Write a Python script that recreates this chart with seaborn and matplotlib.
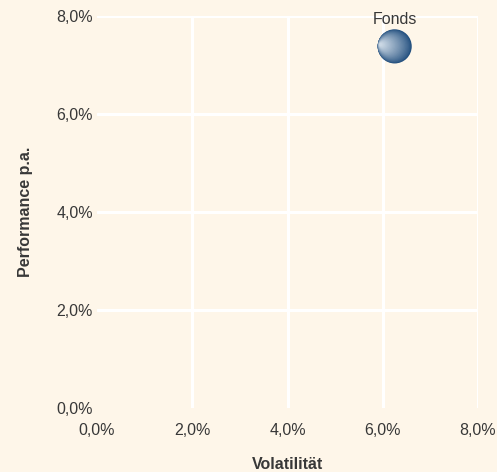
import matplotlib
matplotlib.use("Agg")
import matplotlib.pyplot as plt
import matplotlib.transforms as mtransforms
import matplotlib.colors as mcolors
import numpy as np
import seaborn as sns
import pandas as pd
from matplotlib.ticker import FuncFormatter

# -----------------------------
# Data
# -----------------------------
names = ["Fonds"]
volatility = [6.25]
performance = [7.38]
ticks = [0, 2, 4, 6, 8]

df = pd.DataFrame({"name": names, "vol": volatility, "perf": performance})

bg = "#fef6e9"
text_color = "#383838"
fs = 11.5

sns.set_theme(style="white")
plt.rcParams["font.family"] = ["Liberation Sans", "DejaVu Sans"]

fig = plt.figure(figsize=(4.97, 4.72), dpi=100, facecolor=bg)
ax = fig.add_axes([97 / 497, 1 - 408 / 472, (478 - 97) / 497, (408 - 16) / 472])
ax.set_facecolor(bg)

# grid
for t in ticks[1:]:
    ax.axvline(t, color="white", lw=2.2, zorder=0)
    ax.axhline(t, color="white", lw=2.2, zorder=0)

# sphere-like bubble: stacked circles, getting lighter towards the left side
dark = np.array(mcolors.to_rgb("#23507f"))
light = np.array(mcolors.to_rgb("#cad7e4"))
R = 12.3  # radius in points
n_layers = 24
for i in range(n_layers):
    t = i / (n_layers - 1)
    r = R * (1 - 0.9 * t)
    dx = -(R - r) * 0.9
    dy = (R - r) * 0.12
    col = dark + (light - dark) * t ** 0.8
    tr = mtransforms.offset_copy(ax.transData, fig=fig, x=dx, y=dy, units="points")
    sns.scatterplot(data=df, x="vol", y="perf", s=(2 * r) ** 2, color=col,
                    edgecolor="none", linewidth=0, ax=ax, transform=tr,
                    zorder=3, legend=False)

for _, row in df.iterrows():
    ax.annotate(row["name"], (row["vol"], row["perf"]), xytext=(0, 14),
                textcoords="offset points", ha="center", va="bottom",
                fontsize=fs, color=text_color)

ax.set_xlim(0, 8)
ax.set_ylim(0, 8)
ax.set_xticks(ticks)
ax.set_yticks(ticks)
fmt = FuncFormatter(lambda v, p: f"{v:.1f}%".replace(".", ","))
ax.xaxis.set_major_formatter(fmt)
ax.yaxis.set_major_formatter(fmt)
ax.tick_params(axis="both", length=0, labelsize=fs, colors=text_color)
ax.tick_params(axis="x", pad=10.5)
ax.tick_params(axis="y", pad=3)
for s in ax.spines.values():
    s.set_visible(False)

ax.set_xlabel("Volatilität", fontsize=fs, fontweight="bold", color=text_color, labelpad=14)
ax.set_ylabel("Performance p.a.", fontsize=fs, fontweight="bold", color=text_color, labelpad=17)

fig.savefig("out.png", dpi=100, facecolor=bg)
